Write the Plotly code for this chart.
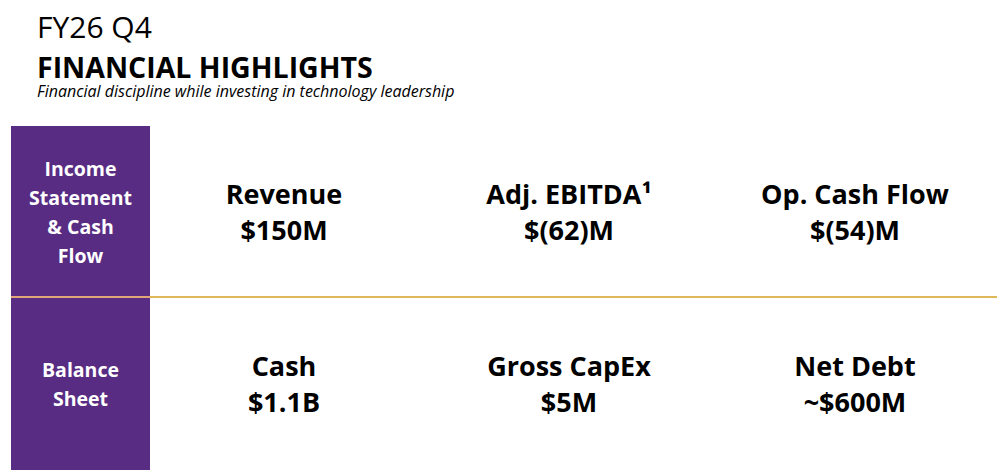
import plotly.graph_objects as go

# data
rowLabels = [["Income", "Statement", "& Cash", "Flow"], ["Balance", "Sheet"]]
metricNames = [["Revenue", "Adj. EBITDA¹", "Op. Cash Flow"],
               ["Cash", "Gross CapEx", "Net Debt"]]
metricValues = [["$150M", "$(62)M", "$(54)M"],
                ["$1.1B", "$5M", "~$600M"]]

title1 = "FY26 Q4"
title2 = "FINANCIAL HIGHLIGHTS"
subtitle = "Financial discipline while investing in technology leadership"

# layout (pixels of the page; the page body adds an 8px margin)
W, H = 1006, 476
OFF = 8
purple = "#582C83"
gold = "#E0B85A"
font = "Open Sans"
boxX0, boxX1 = 11, 150
rowTops = [126, 297, 470]
colCenters = [284, 569, 855]
labelLineGap = 29
valueGap = 36
nudge = 3.5  # text sits a bit high for its anchor

fig = go.Figure()

shapes = [
    dict(type="rect", x0=boxX0, x1=boxX1, y0=rowTops[0], y1=rowTops[2],
         fillcolor=purple, line=dict(width=0), layer="below"),
    dict(type="line", x0=boxX1, x1=997, y0=rowTops[1], y1=rowTops[1],
         line=dict(color=gold, width=2.2)),
    dict(type="line", x0=boxX0, x1=boxX1, y0=rowTops[1], y1=rowTops[1],
         line=dict(color="#E2A57A", width=2.2)),
]

for r in range(len(rowLabels)):
    mid = (rowTops[r] + rowTops[r + 1]) / 2 + nudge
    lines = rowLabels[r]
    n = len(lines)
    ys = [mid + (i - (n - 1) / 2) * labelLineGap for i in range(n)]
    fig.add_trace(go.Scatter(
        x=[(boxX0 + boxX1) / 2] * n, y=ys, mode="text",
        text=["<b>%s</b>" % t for t in lines],
        textfont=dict(family=font, size=19.5, color="white"),
        hoverinfo="skip", showlegend=False))

    xs = colCenters
    fig.add_trace(go.Scatter(
        x=xs, y=[mid - valueGap / 2] * 3, mode="text",
        text=["<b>%s</b>" % t for t in metricNames[r]],
        textfont=dict(family=font, size=27, color="#000000"),
        hoverinfo="skip", showlegend=False))
    fig.add_trace(go.Scatter(
        x=xs, y=[mid + valueGap / 2] * 3, mode="text",
        text=["<b>%s</b>" % t for t in metricValues[r]],
        textfont=dict(family=font, size=27, color="#000000"),
        hoverinfo="skip", showlegend=False))

annotations = [
    dict(x=35, y=26, text=title1, xanchor="left", yanchor="middle",
         font=dict(family=font, size=30, color="#000000")),
    dict(x=35, y=67, text="<b>%s</b>" % title2, xanchor="left", yanchor="middle",
         font=dict(family=font, size=28.5, color="#000000")),
    dict(x=35, y=91, text="<i>%s</i>" % subtitle, xanchor="left", yanchor="middle",
         font=dict(family=font, size=16, color="#000000")),
]
for a in annotations:
    a.update(xref="x", yref="y", showarrow=False)

fig.update_layout(
    width=W, height=H,
    margin=dict(l=0, r=0, t=0, b=0),
    paper_bgcolor="white", plot_bgcolor="white",
    shapes=shapes, annotations=annotations,
    xaxis=dict(range=[OFF, W + OFF], visible=False, fixedrange=True),
    yaxis=dict(range=[H + OFF, OFF], visible=False, fixedrange=True),
)

fig.write_html("out.html", config={"displayModeBar": False})
